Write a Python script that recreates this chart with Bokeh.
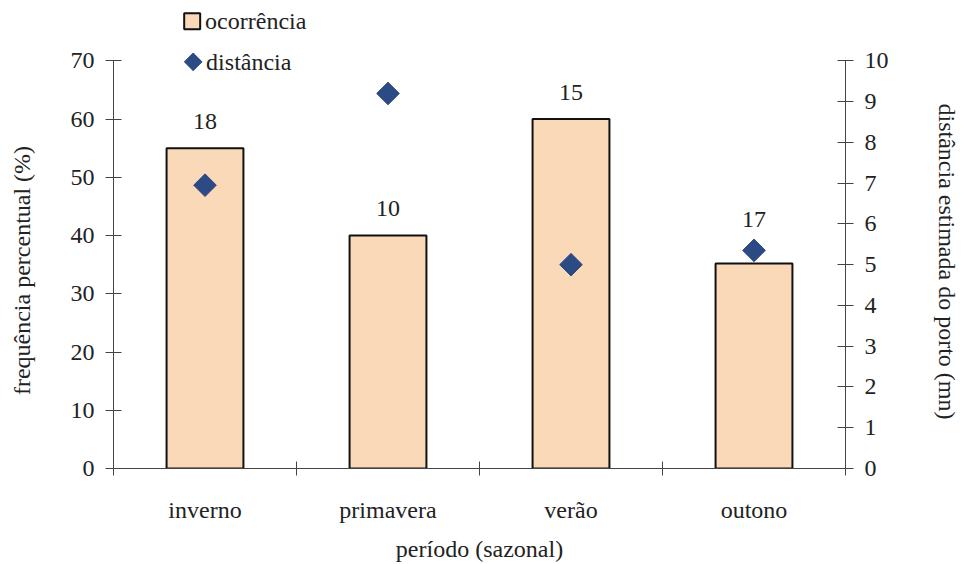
from bokeh.plotting import figure
from bokeh.models import ColumnDataSource, Range1d, LinearAxis, FixedTicker
from bokeh.core.properties import value
from bokeh.embed import file_html
from bokeh.resources import INLINE
import math

# seasonal data
periodos = ["inverno", "primavera", "verão", "outono"]
ocorrencia = [55, 40, 60, 35.2]          # frequência percentual (%)
distancia = [6.95, 9.2, 5.0, 5.35]        # distância estimada do porto (mn)
n_obs = ["18", "10", "15", "17"]          # número de registos por período
legend_labels = ["ocorrência", "distância"]

FONT = "Liberation Serif"
FS = "24px"
TXT = "#222222"
AX = "#444444"
BAR_FILL = "#F9D9B8"
DOT = "#2C4A84"
NBSP = "\u00a0"

W, H = 962, 564
LEFT, RIGHT, BOTTOM, TOP = 113, 114, 91, 0
frame_w = W - LEFT - RIGHT
frame_h = H - BOTTOM - TOP
top_px = 61                               # screen row where 70 % sits
y_end = 70 * frame_h / (frame_h - top_px)  # headroom above the axes for the legend

xs = [i + 0.5 for i in range(len(periodos))]
label_nudge = [-27, -27, -27, -44]
src = ColumnDataSource(dict(x=xs, occ=ocorrencia, dist=distancia,
                            n=n_obs, dy=label_nudge))

p = figure(width=W, height=H, output_backend="svg", toolbar_location=None,
           x_range=Range1d(0, len(periodos)), y_range=Range1d(0, y_end),
           min_border_left=LEFT, min_border_right=RIGHT,
           min_border_bottom=BOTTOM, min_border_top=TOP,
           x_axis_type=None, y_axis_type=None)
p.outline_line_color = None
p.background_fill_color = "white"
p.border_fill_color = "white"
p.extra_y_ranges = {"dist": Range1d(0, y_end / 7), "py": Range1d(0, frame_h)}
p.extra_x_ranges = {"px": Range1d(0, frame_w)}


def style_axis(ax, tick_in=7, tick_out=7):
    ax.axis_line_color = AX
    ax.axis_line_width = 1
    ax.major_tick_line_color = AX
    ax.major_tick_in = tick_in
    ax.major_tick_out = tick_out
    ax.minor_tick_line_color = None
    ax.major_label_text_font = FONT
    ax.major_label_text_font_size = FS
    ax.major_label_text_color = TXT
    ax.axis_label_text_font = FONT
    ax.axis_label_text_font_size = FS
    ax.axis_label_text_font_style = "normal"
    ax.axis_label_text_color = TXT


# bottom axis: tick marks at season boundaries, names at the centres
xax = LinearAxis(ticker=FixedTicker(ticks=xs, minor_ticks=list(range(len(periodos) + 1))),
                 axis_label="período (sazonal)")
style_axis(xax, 0, 0)
xax.minor_tick_line_color = AX
xax.minor_tick_in = 7
xax.minor_tick_out = 7
xax.major_label_overrides = {x: name for x, name in zip(xs, periodos)}
xax.major_label_standoff = 21
xax.axis_label_standoff = 10
p.add_layout(xax, "below")

# vertical titles are centred on the 0-70 span (padding keeps them off the legend headroom)
yl = LinearAxis(ticker=FixedTicker(ticks=list(range(0, 71, 10))), bounds=(0, 70),
                axis_label="frequência percentual (%)" + NBSP * 12)
style_axis(yl, 8, 8)
yl.major_label_standoff = 11
yl.axis_label_standoff = 33
p.add_layout(yl, "left")

yr = LinearAxis(y_range_name="dist", ticker=FixedTicker(ticks=list(range(0, 11))),
                bounds=(0, 10), axis_label=NBSP * 9 + "distância estimada do porto (mn)")
style_axis(yr, 8, 8)
yr.major_label_standoff = 11
yr.axis_label_standoff = 42
yr.axis_label_orientation = "vertical"
p.add_layout(yr, "right")

p.vbar(x="x", top="occ", width=0.42, source=src,
       fill_color=BAR_FILL, line_color="#111111", line_width=2)
p.scatter(x="x", y="dist", y_range_name="dist", source=src,
          marker="square", angle=math.pi / 4, size=16,
          fill_color=DOT, line_color=DOT)
p.text(x="x", y="occ", text="n", source=src, y_offset="dy",
       text_align="center", text_baseline="middle",
       text_font=value(FONT), text_font_size=FS, text_color=TXT)

# legend, laid out in frame pixels
p.rect(x=[79], y=[452], width=16, height=16, width_units="screen", height_units="screen",
       x_range_name="px", y_range_name="py",
       fill_color=BAR_FILL, line_color="#111111", line_width=2)
p.scatter(x=[80], y=[411], x_range_name="px", y_range_name="py",
          marker="square", angle=math.pi / 4, size=12.5, fill_color=DOT, line_color=DOT)
p.text(x=[92, 93], y=[452, 411], text=legend_labels, x_range_name="px", y_range_name="py",
       text_align="left", text_baseline="middle",
       text_font=value(FONT), text_font_size=FS, text_color=TXT)

open("out.html", "w").write(file_html(p, INLINE))
